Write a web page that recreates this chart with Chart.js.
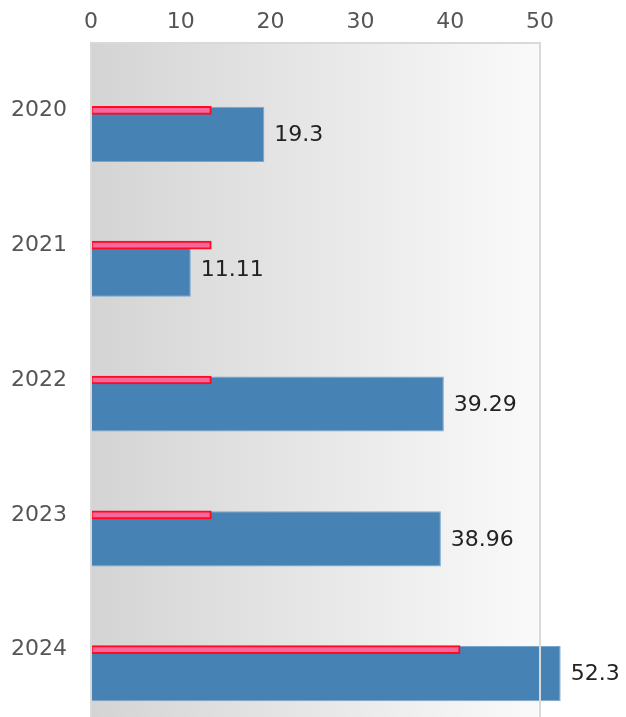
<!DOCTYPE html>
<html>
<head>
<meta charset="utf-8">
<script src="https://cdn.jsdelivr.net/npm/chart.js@4.4.1/dist/chart.umd.min.js"></script>
<style>
  html, body { margin: 0; padding: 0; background: #fff; overflow: hidden; }
  #wrap { width: 626px; height: 717px; }
</style>
</head>
<body>
<div id="wrap"><canvas id="chart"></canvas></div>
<script>
const years = ['2020', '2021', '2022', '2023', '2024'];
const actualValues = [19.3, 11.11, 39.29, 38.96, 52.3];
const targetValues = [13.4, 13.4, 13.4, 13.4, 41.1];
const xTicks = [0, 10, 20, 30, 40, 50];

const FONT = "'DejaVu Sans', sans-serif";

// plot background: grey to white, drawn under the bars
const plotBackground = {
  id: 'plotBackground',
  beforeDatasetsDraw(chart) {
    const { ctx, chartArea: a } = chart;
    const g = ctx.createLinearGradient(a.left, 0, a.right, 0);
    g.addColorStop(0, '#d4d4d4');
    g.addColorStop(1, '#fafafa');
    ctx.save();
    ctx.fillStyle = g;
    ctx.fillRect(a.left, a.top, a.right - a.left, a.bottom - a.top);
    ctx.restore();
  },
  afterDatasetsDraw(chart) {
    const { ctx, chartArea: a } = chart;
    ctx.save();
    ctx.strokeStyle = '#d9d9d9';
    ctx.lineWidth = 2;
    ctx.beginPath();
    ctx.moveTo(a.left, a.bottom);
    ctx.lineTo(a.left, a.top);
    ctx.lineTo(a.right, a.top);
    ctx.lineTo(a.right, a.bottom);
    ctx.stroke();
    ctx.restore();
  }
};

// value text to the right of each blue bar
const valueLabels = {
  id: 'valueLabels',
  afterDraw(chart) {
    const { ctx } = chart;
    const meta = chart.getDatasetMeta(2);
    ctx.save();
    ctx.font = '22px ' + FONT;
    ctx.fillStyle = '#222';
    ctx.textAlign = 'left';
    ctx.textBaseline = 'middle';
    meta.data.forEach((bar, i) => {
      ctx.fillText(String(actualValues[i]), bar.x + 10, bar.y + 1);
    });
    ctx.restore();
  }
};

new Chart(document.getElementById('chart'), {
  type: 'bar',
  data: {
    labels: years,
    datasets: [
      {
        label: 'Target',
        data: targetValues,
        grouped: false,
        barThickness: 8,
        backgroundColor: '#f7699e',
        borderColor: '#ff0a1e',
        borderWidth: 2,
        borderSkipped: false,
        clip: false
      },
      {
        // empty slot so the blue bar sits in the lower half of each row
        label: '',
        data: [],
        categoryPercentage: 0.712,
        barPercentage: 1.15
      },
      {
        label: 'Value',
        data: actualValues,
        categoryPercentage: 0.712,
        barPercentage: 1.15,
        backgroundColor: '#4682b4',
        borderColor: '#7aa5cb',
        borderWidth: 1,
        borderSkipped: false,
        clip: false
      }
    ]
  },
  options: {
    indexAxis: 'y',
    responsive: true,
    maintainAspectRatio: false,
    animation: false,
    layout: { autoPadding: false, padding: { left: 10, right: 86, top: 4, bottom: 0 } },
    plugins: {
      legend: { display: false },
      tooltip: { enabled: false }
    },
    scales: {
      x: {
        position: 'top',
        min: 0,
        max: 50,
        afterBuildTicks(scale) {
          scale.ticks = xTicks.map(v => ({ value: v }));
        },
        afterFit(scale) {
          scale.height = 39;
          scale.paddingLeft = 0;
          scale.paddingRight = 0;
        },
        grid: { display: false, drawTicks: false },
        border: { display: false },
        ticks: { color: '#555', padding: 8, font: { family: FONT, size: 22 } }
      },
      y: {
        afterFit(scale) {
          scale.width = 81;
          scale.paddingTop = 0;
          scale.paddingBottom = 0;
        },
        grid: { display: false, drawTicks: false },
        border: { display: false },
        ticks: { color: '#555', padding: 24, font: { family: FONT, size: 22 } }
      }
    }
  },
  plugins: [plotBackground, valueLabels]
});
</script>
</body>
</html>
